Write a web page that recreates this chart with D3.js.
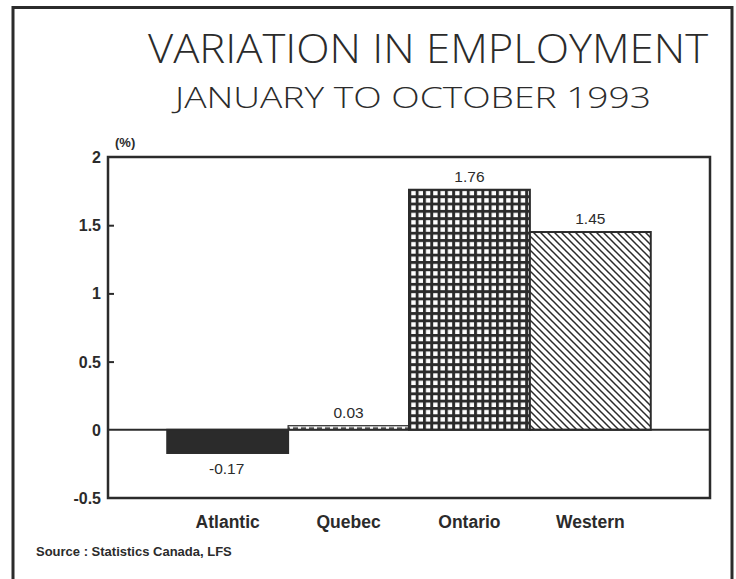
<!DOCTYPE html>
<html><head><meta charset="utf-8">
<script src="https://cdn.jsdelivr.net/npm/d3@7"></script>
<style>
body{margin:0;background:#fff;}
svg{display:block;}
</style></head>
<body>
<svg id="chart" width="736" height="579"></svg>
<script>
const categories = ["Atlantic","Quebec","Ontario","Western"];
const values = [-0.17, 0.03, 1.76, 1.45];
const valueLabels = ["-0.17","0.03","1.76","1.45"];
const yTicks = [-0.5, 0, 0.5, 1, 1.5, 2];
const yTickLabels = ["-0.5","0","0.5","1","1.5","2"];
const patterns = ["solid","dash","grid","hatch"];

const svg = d3.select("#chart");
const ink = "#2b2b2b";
const W = 736, H = 579;

// outer border
svg.append("path").attr("d", `M13,${H+5} L13,7.5 L732,7.5 L732,${H+5}`)
  .attr("fill","none").attr("stroke",ink).attr("stroke-width",3);

// titles
svg.append("text").attr("x",428).attr("y",63).attr("text-anchor","middle")
  .attr("font-family","'Open Sans', 'DejaVu Sans', sans-serif").attr("font-weight",300)
  .attr("font-size",41).attr("fill",ink).attr("textLength",560).attr("lengthAdjust","spacingAndGlyphs")
  .text("VARIATION IN EMPLOYMENT");
svg.append("text").attr("x",413).attr("y",108).attr("text-anchor","middle")
  .attr("font-family","'Open Sans', 'DejaVu Sans', sans-serif").attr("font-weight",300)
  .attr("font-size",30).attr("fill",ink).attr("textLength",476).attr("lengthAdjust","spacingAndGlyphs")
  .text("JANUARY TO OCTOBER 1993");

const m = {left:108, top:157, right:710, bottom:498};
const x = d3.scaleBand().domain(categories).range([m.left, m.right]).paddingInner(0).paddingOuter(0.49);
const y = d3.scaleLinear().domain([-0.5, 2]).range([m.bottom, m.top]);

// patterns
const defs = svg.append("defs");
const pd = defs.append("pattern").attr("id","p-dash").attr("patternUnits","userSpaceOnUse")
  .attr("width",8).attr("height",5).attr("x",m.left).attr("y",y(values[1]));
pd.append("rect").attr("width",8).attr("height",5).attr("fill","#fff");
pd.append("rect").attr("x",1).attr("y",1.6).attr("width",5).attr("height",1.8).attr("fill",ink);
const pg = defs.append("pattern").attr("id","p-grid").attr("patternUnits","userSpaceOnUse")
  .attr("width",7.3).attr("height",7.3).attr("x",m.left+2).attr("y",y(0));
pg.append("rect").attr("width",7.3).attr("height",7.3).attr("fill",ink);
pg.append("rect").attr("x",2).attr("y",2).attr("width",4.4).attr("height",4.4).attr("fill","#fff");
const ph = defs.append("pattern").attr("id","p-hatch").attr("patternUnits","userSpaceOnUse")
  .attr("width",7).attr("height",7);
ph.append("rect").attr("width",7).attr("height",7).attr("fill","#fff");
ph.append("path").attr("d","M-1,-1 L8,8 M-1,6 L1,8 M6,-1 L8,1").attr("stroke",ink).attr("stroke-width",1.5);
const fills = {solid: ink, dash:"url(#p-dash)", grid:"url(#p-grid)", hatch:"url(#p-hatch)"};

// bars
const data = categories.map((c,i)=>({c, v:values[i], lab:valueLabels[i], p:patterns[i]}));
svg.append("g").selectAll("rect").data(data).join("rect")
  .attr("x", d=>x(d.c)).attr("width", x.bandwidth())
  .attr("y", d=>y(Math.max(0,d.v))).attr("height", d=>Math.abs(y(d.v)-y(0)))
  .attr("fill", d=>fills[d.p]).attr("stroke", ink)
  .attr("stroke-width", d=>d.p==="dash"?1.2:2);

// zero line
svg.append("line").attr("x1",m.left).attr("x2",m.right).attr("y1",y(0)).attr("y2",y(0))
  .attr("stroke",ink).attr("stroke-width",2);

// frame
svg.append("rect").attr("x",m.left).attr("y",m.top).attr("width",m.right-m.left).attr("height",m.bottom-m.top)
  .attr("fill","none").attr("stroke",ink).attr("stroke-width",2.5);

// y axis
const yAxis = d3.axisRight(y).tickValues(yTicks).tickSize(6).tickFormat("");
const ga = svg.append("g").attr("transform",`translate(${m.left},0)`).call(yAxis);
ga.select(".domain").remove();
ga.selectAll(".tick line").attr("stroke",ink).attr("stroke-width",2);
ga.selectAll(".tick").filter(d=>d===0||d===2||d===-0.5).select("line").remove();
svg.append("g").selectAll("text").data(yTicks).join("text")
  .attr("x", m.left-7).attr("y", d=>y(d)+6).attr("text-anchor","end")
  .attr("font-family","'Liberation Sans', Arial, sans-serif").attr("font-weight",700)
  .attr("font-size",16).attr("fill",ink)
  .text((d,i)=>yTickLabels[i]);
svg.append("text").attr("x",115).attr("y",147)
  .attr("font-family","'Liberation Sans', Arial, sans-serif").attr("font-weight",700)
  .attr("font-size",13).attr("fill",ink).text("(%)");

// value labels
svg.append("g").selectAll("text").data(data).join("text")
  .attr("x", d=>x(d.c)+x.bandwidth()/2 + (d.v<0?-1:0))
  .attr("y", d=> d.v<0 ? y(d.v)+21 : y(d.v)-8)
  .attr("text-anchor","middle")
  .attr("font-family","'Liberation Sans', Arial, sans-serif").attr("font-weight",400)
  .attr("font-size",15.5).attr("fill",ink).text(d=>d.lab);

// category labels
svg.append("g").selectAll("text").data(categories).join("text")
  .attr("x", d=>x(d)+x.bandwidth()/2).attr("y", 528).attr("text-anchor","middle")
  .attr("font-family","'Liberation Sans', Arial, sans-serif").attr("font-weight",700)
  .attr("font-size",17.5).attr("fill",ink).text(d=>d);

// source
svg.append("text").attr("x",36).attr("y",556)
  .attr("font-family","'Liberation Sans', Arial, sans-serif").attr("font-weight",700)
  .attr("font-size",13).attr("fill",ink).text("Source : Statistics Canada, LFS");
</script>
</body></html>
